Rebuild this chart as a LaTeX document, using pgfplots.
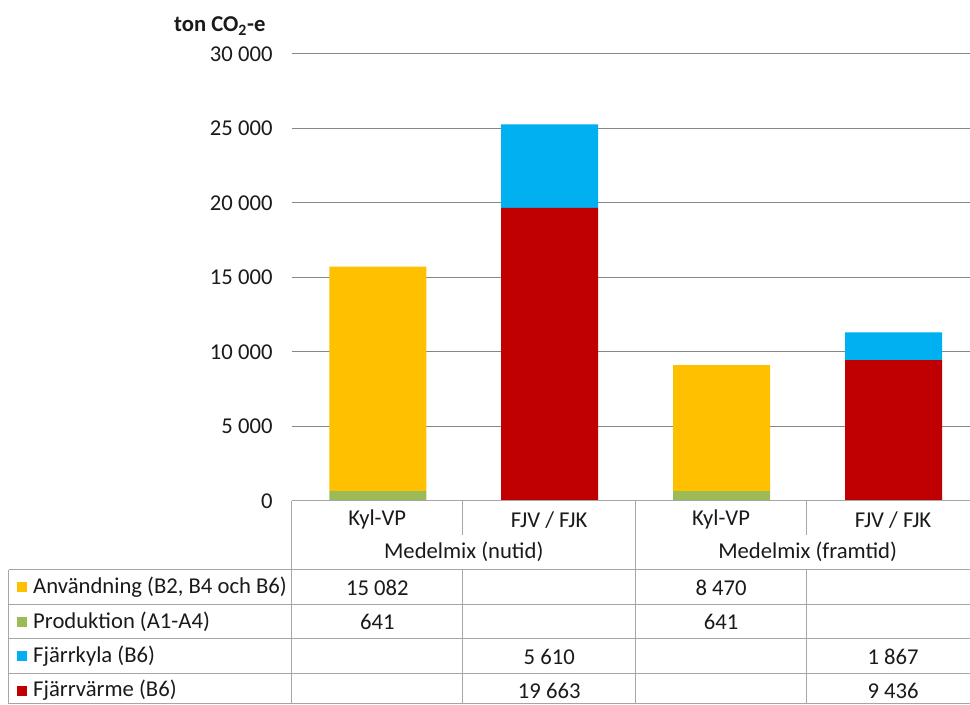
\documentclass[border=0pt]{standalone}
\usepackage{pgfplots}
\pgfplotsset{compat=1.18}
\usepackage{fontspec}
\setmainfont{Carlito}
\definecolor{cAnv}{HTML}{FFC000}
\definecolor{cProd}{HTML}{9BBB59}
\definecolor{cKyla}{HTML}{00B0F0}
\definecolor{cVarme}{HTML}{C00000}
\definecolor{gridc}{HTML}{868686}
\definecolor{tabc}{HTML}{A6A6A6}
\definecolor{txt}{HTML}{1A1A1A}
\begin{document}
\begin{tikzpicture}[font=\fontsize{17}{20}\selectfont, text=txt]
\begin{scope}[x=0.75pt,y=-0.75pt]
\useasboundingbox (0,0) rectangle (970,704);
\end{scope}
\begin{axis}[
  at={(219pt,-375.75pt)}, anchor=south west,
  scale only axis, width=508.5pt, height=335.25pt,
  xmin=0, xmax=3.942, ymin=0, ymax=30000,
  ybar stacked, bar width=72.75pt,
  xtick=\empty,
  scaled y ticks=false,
  ytick={0,5000,10000,15000,20000,25000,30000},
  yticklabels={0,5 000,10 000,15 000,20 000,25 000,30 000},
  yticklabel style={font=\fontsize{17}{20}\selectfont, text=txt, anchor=east, xshift=-11pt},
  ymajorgrids, grid style={gridc, line width=0.75pt},
  axis line style={draw=none}, major tick length=0pt,
]
\addplot[fill=cProd, draw=none] coordinates {(0.5,641) (1.5,0) (2.5,641) (3.5,0)};
\addplot[fill=cAnv, draw=none] coordinates {(0.5,15082) (1.5,0) (2.5,8470) (3.5,0)};
\addplot[fill=cVarme, draw=none] coordinates {(0.5,0) (1.5,19663) (2.5,0) (3.5,9436)};
\addplot[fill=cKyla, draw=none] coordinates {(0.5,0) (1.5,5610) (2.5,0) (3.5,1867)};
\end{axis}
\begin{scope}[x=0.75pt,y=-0.75pt]
% y axis title
\node[font=\fontsize{17}{20}\selectfont\bfseries] at (220,26) {ton CO\textsubscript{2}-e};
% table lines
\draw[tabc, line width=0.75pt] (292,501) -- (970,501);
\draw[tabc, line width=0.75pt] (292,501) -- (292,704);
\draw[tabc, line width=0.75pt] (636,501) -- (636,704);
\draw[tabc, line width=0.75pt] (463,501) -- (463,535);
\draw[tabc, line width=0.75pt] (807,501) -- (807,535);
\draw[tabc, line width=0.75pt] (463,570) -- (463,704);
\draw[tabc, line width=0.75pt] (807,570) -- (807,704);
\draw[tabc, line width=0.75pt] (9,570) -- (9,704);
\foreach \yy in {570,604.5,639,673.5} \draw[tabc, line width=0.75pt] (9,\yy) -- (970,\yy);
\draw[tabc, line width=0.75pt] (9,703.6) -- (970,703.6);
% category labels
\node at (377.5,520) {Kyl-VP};
\node at (549.5,520) {FJV / FJK};
\node at (721.5,520) {Kyl-VP};
\node at (893.5,520) {FJV / FJK};
\node at (464,552) {Medelmix (nutid)};
\node at (808,552) {Medelmix (framtid)};
% row labels
\fill[cAnv] (17,582.5) rectangle (27,592.5);
\node[anchor=west, inner sep=0pt] at (33,587.5) {Användning (B2, B4 och B6)};
\fill[cProd] (17,617) rectangle (27,627);
\node[anchor=west, inner sep=0pt] at (33,622) {Produktion (A1-A4)};
\fill[cKyla] (17,651.5) rectangle (27,661.5);
\node[anchor=west, inner sep=0pt] at (33,656.5) {Fjärrkyla (B6)};
\fill[cVarme] (17,686) rectangle (27,696);
\node[anchor=west, inner sep=0pt] at (33,690.5) {Fjärrvärme (B6)};
% values
\node at (377.5,588) {15 082};
\node at (721.5,588) {8 470};
\node at (377.5,622) {641};
\node at (721.5,622) {641};
\node at (549.5,657) {5 610};
\node at (893.5,657) {1 867};
\node at (549.5,691) {19 663};
\node at (893.5,691) {9 436};
\end{scope}
\end{tikzpicture}
\end{document}
